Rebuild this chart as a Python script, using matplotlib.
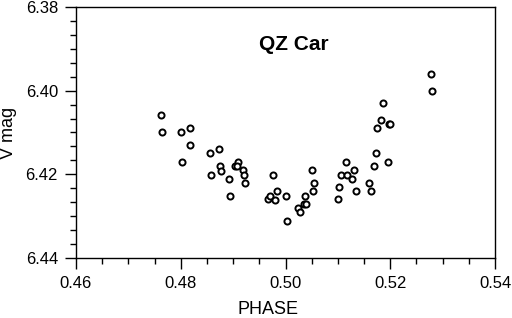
import matplotlib
matplotlib.use("Agg")
import matplotlib.pyplot as plt
from matplotlib.ticker import MultipleLocator, FormatStrFormatter

phase = [0.4763, 0.4765, 0.4800, 0.4817, 0.4802, 0.4818, 0.4856, 0.4873, 0.4858,
         0.4875, 0.4877, 0.4892, 0.4894, 0.4904, 0.4909, 0.4907, 0.4918, 0.4920,
         0.4922, 0.4977, 0.4967, 0.4971, 0.4980, 0.4983, 0.5001, 0.5003, 0.5024,
         0.5028, 0.5035, 0.5039, 0.5038, 0.5051, 0.5052, 0.5055, 0.5100, 0.5103,
         0.5106, 0.5116, 0.5118, 0.5127, 0.5131, 0.5134, 0.5160, 0.5163, 0.5169,
         0.5172, 0.5174, 0.5182, 0.5186, 0.5198, 0.5199, 0.5195, 0.5277, 0.5279]
vmag = [6.4059, 6.4100, 6.4100, 6.4090, 6.4170, 6.4130, 6.4150, 6.4140, 6.4201,
        6.4179, 6.4191, 6.4211, 6.4251, 6.4180, 6.4170, 6.4180, 6.4190, 6.4201,
        6.4221, 6.4201, 6.4260, 6.4251, 6.4261, 6.4240, 6.4251, 6.4311, 6.4280,
        6.4291, 6.4271, 6.4270, 6.4251, 6.4190, 6.4240, 6.4221, 6.4260, 6.4230,
        6.4201, 6.4170, 6.4201, 6.4211, 6.4190, 6.4240, 6.4221, 6.4240, 6.4181,
        6.4150, 6.4090, 6.4070, 6.4030, 6.4080, 6.4080, 6.4170, 6.3960, 6.4000]

title = "QZ Car"
xlabel = "PHASE"
ylabel = "V mag"

plt.rcParams['font.family'] = ['Liberation Sans', 'DejaVu Sans']

fig = plt.figure(figsize=(5.12, 3.18), dpi=100)
ax = fig.add_axes([76/512, 1-258/318, 419/512, 251/318])

ax.plot(phase, vmag, linestyle='none', marker='o', markersize=4.4,
        markerfacecolor='white', markeredgecolor='black', markeredgewidth=1.4)

ax.set_xlim(0.46, 0.54)
ax.set_ylim(6.44, 6.38)
ax.xaxis.set_major_locator(MultipleLocator(0.02))
ax.xaxis.set_minor_locator(MultipleLocator(0.005))
ax.yaxis.set_major_locator(MultipleLocator(0.02))
ax.yaxis.set_minor_locator(MultipleLocator(0.02/6))
ax.xaxis.set_major_formatter(FormatStrFormatter('%.2f'))
ax.yaxis.set_major_formatter(FormatStrFormatter('%.2f'))

ax.tick_params(which='major', direction='out', length=8, width=1, labelsize=12, pad=5, colors='black')
ax.tick_params(which='minor', direction='out', length=4.5, width=1)
for s in ax.spines.values():
    s.set_linewidth(1)
    s.set_color('black')

ax.text(0.52, 0.85, title, transform=ax.transAxes, ha='center', va='center',
        fontsize=15, fontweight='bold')
ax.set_xlabel(xlabel, fontsize=13, labelpad=4)
ax.xaxis.set_label_coords(0.458, -0.17)
ax.set_ylabel(ylabel, fontsize=13)
ax.yaxis.set_label_coords(-0.142, 0.5)

fig.savefig("out.png", dpi=100)
